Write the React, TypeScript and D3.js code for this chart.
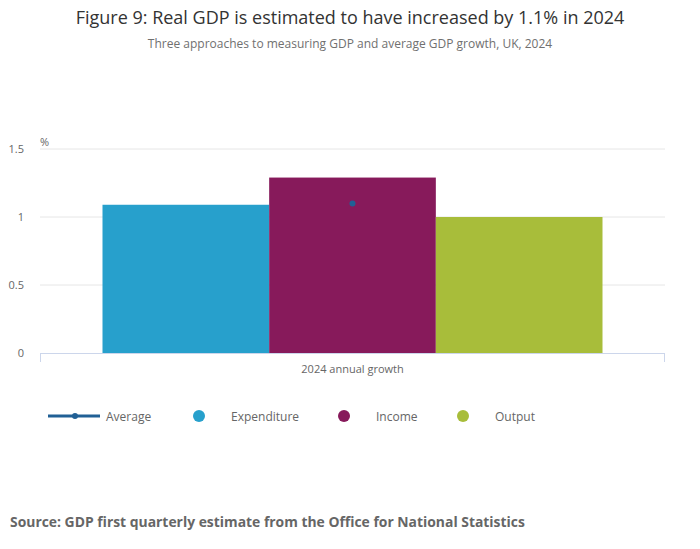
import React from 'react';
import * as d3 from 'd3';

const categories = ['2024 annual growth'];
const seriesNames = ['Expenditure', 'Income', 'Output'];
const seriesValues = [1.09, 1.29, 1.0];
const seriesColors = ['#27a0cc', '#871a5b', '#a8bd3a'];
const averageValues = [1.1];
const yTicks = [0, 0.5, 1, 1.5];

const W = 700;
const H = 549;
const FONT = '"Open Sans", sans-serif';
const margin = { top: 149, right: 35, bottom: 196, left: 40 };

export default function App() {
  const innerW = W - margin.left - margin.right;
  const innerH = H - margin.top - margin.bottom;

  const x = d3.scaleBand().domain(categories).range([0, innerW]).paddingInner(0).paddingOuter(0.125);
  const xs = d3.scaleBand().domain(seriesNames).range([0, x.bandwidth()]).padding(0);
  const y = d3.scaleLinear().domain([0, 1.5]).range([innerH, 0]);

  const legendItems = [
    { name: 'Average', x: 48, textX: 106 },
    { name: 'Expenditure', x: 199, textX: 231 },
    { name: 'Income', x: 344, textX: 376 },
    { name: 'Output', x: 463, textX: 495 },
  ];

  return (
    <svg width={W} height={H} style={{ position: 'absolute', left: 0, top: 0, fontFamily: FONT }}>
      <rect width={W} height={H} fill="#fff" />
      <text x={W / 2} y={24} textAnchor="middle" fontSize={18} fill="#333">
        Figure 9: Real GDP is estimated to have increased by 1.1% in 2024
      </text>
      <text x={W / 2} y={48} textAnchor="middle" fontSize={12} fill="#707070">
        Three approaches to measuring GDP and average GDP growth, UK, 2024
      </text>

      <g transform={`translate(${margin.left},${margin.top})`}>
        {yTicks.map(t => (
          <g key={t}>
            {t > 0 && <line x1={0} x2={innerW} y1={y(t)} y2={y(t)} stroke="#e6e6e6" />}
            <text x={-16} y={y(t) + 4} textAnchor="end" fontSize={11} fill="#666">{t}</text>
          </g>
        ))}
        <text x={0} y={-3} fontSize={11} fill="#666">%</text>

        {categories.map((c, ci) => (
          <g key={c} transform={`translate(${x(c)},0)`}>
            {seriesNames.map((s, si) => (
              <rect key={s} x={xs(s)} y={y(seriesValues[si])} width={xs.bandwidth()}
                height={innerH - y(seriesValues[si])} fill={seriesColors[si]} />
            ))}
            <circle cx={x.bandwidth() / 2} cy={y(averageValues[ci])} r={3} fill="#206095" />
          </g>
        ))}

        <line x1={0} x2={innerW} y1={innerH + 0.5} y2={innerH + 0.5} stroke="#ccd6eb" />
        <line x1={0.5} x2={0.5} y1={innerH} y2={innerH + 9} stroke="#ccd6eb" />
        <line x1={innerW - 0.5} x2={innerW - 0.5} y1={innerH} y2={innerH + 9} stroke="#ccd6eb" />
        {categories.map(c => (
          <text key={c} x={(x(c) ?? 0) + x.bandwidth() / 2} y={innerH + 20} textAnchor="middle" fontSize={11} fill="#666">{c}</text>
        ))}
      </g>

      <g transform="translate(0,416)">
        {legendItems.map((it, i) => (
          <g key={it.name}>
            {i === 0 ? (
              <g>
                <line x1={it.x} x2={it.x + 52} y1={0} y2={0} stroke="#206095" strokeWidth={3} />
                <circle cx={it.x + 27} cy={0} r={3} fill="#206095" />
              </g>
            ) : (
              <circle cx={it.x} cy={0} r={6} fill={seriesColors[i - 1]} />
            )}
            <text x={it.textX} y={5} fontSize={12} fill="#666">{it.name}</text>
          </g>
        ))}
      </g>

      <text x={10} y={527} fontSize={13.9} fontWeight="bold" fill="#666">
        Source: GDP first quarterly estimate from the Office for National Statistics
      </text>
    </svg>
  );
}
